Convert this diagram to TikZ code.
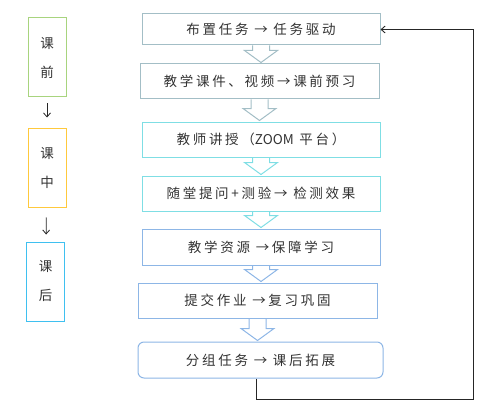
\documentclass[tikz,border=0pt]{standalone}
\usepackage{fontspec}
\newfontfamily\cjk[LetterSpace=20]{Noto Sans CJK SC}
\newfontfamily\cjkplain{Noto Sans CJK SC}
\usepackage{xcolor}
\definecolor{flowgray}{HTML}{A3BEC6}
\definecolor{flowcyan}{HTML}{7FDEE4}
\definecolor{flowblue}{HTML}{8DB6E6}
\definecolor{phasegreen}{HTML}{A8D47E}
\definecolor{phasegold}{HTML}{FFC93C}
\definecolor{phaseblue}{HTML}{3FC0F0}
\definecolor{flowtext}{HTML}{333333}
\usetikzlibrary{
  arrows.meta,
  calc,
}

\begin{document}
\begin{tikzpicture}[
  x=1pt, y=-1pt,
  stepbox/.style={
    draw, fill=white, line width=1pt, minimum width=238pt, minimum height=35pt,
    font=\cjk\fontsize{13.5}{15}\selectfont, text=flowtext, align=center,
  },
  phase/.style={
    draw, line width=1pt, minimum width=38pt, minimum height=79pt,
    font=\cjk\fontsize{13.5}{29}\selectfont, text=flowtext, align=center,
  },
  hollow/.style={
    line width=1pt,
  },
  connector/.style={
    -{Straight Barb[length=4pt,width=7pt]}, line width=0.8pt, color=black!85,
  },
]
  \useasboundingbox (0,0) rectangle (489,401);

  % --- phases ---
  \node[phase, draw=phasegreen] (p-pre)  at (47,57.5)   {课\\前};
  \node[phase, draw=phasegold]  (p-mid)  at (47,167.5)  {课\\中};
  \node[phase, draw=phaseblue]  (p-post) at (45.5,281.5) {课\\后};
  \draw[connector, shorten <=6pt, shorten >=10pt] (p-pre) -- (p-mid);
  \draw[connector, shorten <=10pt, shorten >=7pt] (p-mid) -- (p-post);

  % --- steps ---
  \node[stepbox, draw=flowgray, minimum height=31pt] (s-assign) at (261,29.5) {布置任务 → 任务驱动};
  \node[stepbox, draw=flowgray, minimum width=239pt] (s-prep)   at (259.5,81.5) {教学课件、视频→课前预习};
  \node[stepbox, draw=flowcyan]  (s-teach)  at (261,139.5) {教师讲授（{\cjkplain ZOOM} 平台）};
  \node[stepbox, draw=flowcyan]  (s-quiz)   at (261,193.5) {随堂提问+测验→ 检测效果};
  \node[stepbox, draw=flowblue, minimum height=36pt]  (s-res) at (261,247) {教学资源 →保障学习};
  \node[stepbox, draw=flowblue, minimum width=239pt] (s-work) at (257.5,300.5) {提交作业 →复习巩固};
  \node[stepbox, draw=flowblue, minimum width=245pt, minimum height=36pt, rounded corners=6pt]
    (s-team) at (260.5,360) {分组任务 → 课后拓展};

  % hollow arrows
  \foreach \a/\b/\c in {s-assign/s-prep/flowgray, s-prep/s-teach/flowgray,
                        s-teach/s-quiz/flowcyan, s-quiz/s-res/flowcyan,
                        s-res/s-work/flowblue, s-work/s-team/flowblue}
    \draw[hollow, draw=\c] ($(\a.south)+(-8.5,0)$) -- ($(\a.south |- \b.north)+(-8.5,-13)$)
      -- ++(-8,0) -- ($(\a.south |- \b.north)+(0,-1)$) -- ($(\a.south |- \b.north)+(16.5,-13)$)
      -- ++(-8,0) -- ($(\a.south)+(8.5,0)$);

  % feedback loop
  \coordinate (loop) at (473,399);
  \draw[connector, line width=0.9pt] ($(s-team.south)+(-4.5,0)$) |- (loop) |- (s-assign.east);
\end{tikzpicture}
\end{document}
